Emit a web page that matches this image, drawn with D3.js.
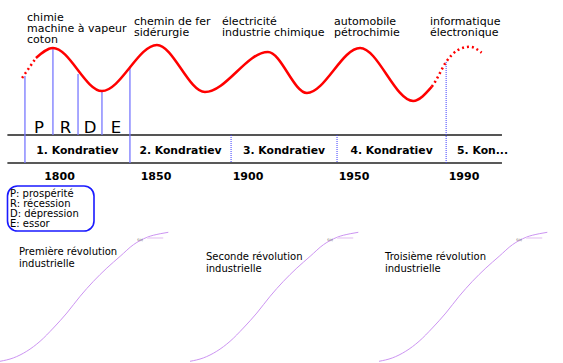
<!DOCTYPE html>
<html><head><meta charset="utf-8">
<script src="https://cdn.jsdelivr.net/npm/d3@7"></script>
<style>body{margin:0;background:#fff}svg{display:block}text{font-family:"DejaVu Sans",sans-serif}</style>
</head><body><svg width="563" height="363"></svg>
<script>
// ---------- data ----------
const yearLabels = [1800, 1850, 1900, 1950, 1990];

const waveStartYears  = [1780.6, 1787.8];
const waveStartValues = [45.7, 74.3];
const waveYears  = [1787.8, 1796.6, 1822.0, 1850.5, 1876.6, 1909.4, 1927.8, 1952.2, 1971.5, 1978.3];
const waveValues = [74.3, 88.6, 27.1, 92.9, 25.7, 82.9, 24.3, 88.6, 12.9, 33.3];
const waveEndYears  = [1978.3, 1979.5, 1983.5, 1987.8, 1992.2, 1996.4];
const waveEndValues = [33.3, 40.4, 68.6, 85.7, 90.4, 81.9];

const phaseNames  = ["P", "R", "D", "E"];
const phaseBounds = [1782.1, 1796.6, 1809.6, 1822.0, 1836.5];
const phaseTops   = [48.6, 88.6, 51.4, 27.1, 61.9];

const kondratievLabels = ["1. Kondratiev", "2. Kondratiev", "3. Kondratiev", "4. Kondratiev", "5. Kon..."];
const kondratievBounds = [1782.1, 1836.5, 1890.8, 1942.0, 1983.5, 2010];
const lastBoundTop = 68.6;
const bandExtent = [1773, 2003.8];

const innovationYears = [1783.2, 1838.6, 1885.9, 1940.6, 1977.6];
const innovationTexts = [
  ["chimie", "machine à vapeur", "coton"],
  ["chemin de fer", "sidérurgie"],
  ["électricité", "industrie chimique"],
  ["automobile", "pétrochimie"],
  ["informatique", "électronique"]
];

const legendItems = ["P: prospérité", "R: récession", "D: dépression", "E: essor"];

const revolutionNames = [
  ["Première révolution", "industrielle"],
  ["Seconde révolution", "industrielle"],
  ["Troisième révolution", "industrielle"]
];
const sCurveT     = [0, 7.9, 15.9, 23.8, 31.7, 39.7, 47.6, 55.5, 63.5, 71.4, 79.3, 87.3, 95.2, 100];
const sCurveLevel = [0, 2.6, 7.8, 15.5, 25.8, 37.4, 50.4, 62, 72.3, 81.4, 90.4, 96.1, 98.9, 100];
const plateauT = [87.3, 97];
const plateauLevel = 95.6;
const curveNote = "S(t)";

// ---------- layout ----------
const svg = d3.select("svg");
const x = d3.scaleLinear().domain(yearLabels).range([59.5, 156, 248, 354, 464]);
const y = d3.scaleLinear().domain([0, 100]).range([110, 40]);
const bandTop = 135, bandBottom = 163;

const line = d3.line().x(d => x(d[0])).y(d => y(d[1])).curve(d3.curveMonotoneX);
const zip = (a, b) => a.map((v, i) => [v, b[i]]);

// band lines
svg.append("line").attr("x1", x(bandExtent[0])).attr("x2", x(bandExtent[1]))
  .attr("y1", bandTop).attr("y2", bandTop).attr("stroke", "#555").attr("stroke-width", 1.8);
svg.append("line").attr("x1", x(bandExtent[0])).attr("x2", x(bandExtent[1]))
  .attr("y1", bandBottom).attr("y2", bandBottom).attr("stroke", "#222").attr("stroke-width", 1.5);

// phase lines
svg.selectAll(".phase").data(phaseBounds).join("line")
  .attr("x1", d => x(d)).attr("x2", d => x(d))
  .attr("y1", (d, i) => y(phaseTops[i]))
  .attr("y2", (d, i) => (i === 0 || i === phaseBounds.length - 1) ? bandBottom : bandTop)
  .attr("stroke", "#7878ff").attr("stroke-width", 1.3);

// kondratiev dotted boundaries
svg.selectAll(".kb").data(kondratievBounds.slice(2, 5)).join("line")
  .attr("x1", d => x(d)).attr("x2", d => x(d))
  .attr("y1", (d, i) => i === 2 ? y(lastBoundTop) : bandTop)
  .attr("y2", bandBottom)
  .attr("stroke", "#3a3aff").attr("stroke-width", 1).attr("stroke-dasharray", "1,1");

// wave
svg.append("path").attr("d", line(zip(waveStartYears, waveStartValues)))
  .attr("fill", "none").attr("stroke", "#ff0000").attr("stroke-width", 2.5).attr("stroke-dasharray", "2,3");
svg.append("path").attr("d", line(zip(waveYears, waveValues)))
  .attr("fill", "none").attr("stroke", "#ff0000").attr("stroke-width", 2.5);
svg.append("path").attr("d", line(zip(waveEndYears, waveEndValues)))
  .attr("fill", "none").attr("stroke", "#ff0000").attr("stroke-width", 2.5).attr("stroke-dasharray", "2,3");

// phase letters
svg.selectAll(".pl").data(phaseNames).join("text")
  .attr("x", (d, i) => (x(phaseBounds[i]) + x(phaseBounds[i + 1])) / 2)
  .attr("y", 133).attr("text-anchor", "middle").attr("font-size", 16.5).attr("fill", "#000")
  .text(d => d);

// kondratiev labels
svg.selectAll(".kl").data(kondratievLabels).join("text")
  .attr("x", (d, i) => (x(kondratievBounds[i]) + x(kondratievBounds[i + 1])) / 2)
  .attr("y", 154).attr("text-anchor", "middle").attr("font-size", 10.8).attr("font-weight", "bold")
  .text(d => d);

// year labels
svg.selectAll(".yl").data(yearLabels).join("text")
  .attr("x", d => x(d)).attr("y", 180).attr("text-anchor", "middle")
  .attr("font-size", 11).attr("font-weight", "bold").text(d => d);

// innovations
innovationTexts.forEach((lines, i) => {
  const y0 = lines.length === 3 ? 21 : 24.5;
  const t = svg.append("text").attr("font-size", 11).attr("fill", "#000");
  lines.forEach((s, j) => t.append("tspan").attr("x", x(innovationYears[i])).attr("y", y0 + j * 11).text(s));
});

// legend
svg.append("rect").attr("x", 7.5).attr("y", 186).attr("width", 86.5).attr("height", 45)
  .attr("rx", 10).attr("ry", 10).attr("fill", "none").attr("stroke", "#1a1aff").attr("stroke-width", 1.6);
svg.selectAll(".lg").data(legendItems).join("text")
  .attr("x", 10).attr("y", (d, i) => 196.5 + i * 10.1).attr("font-size", 10).text(d => d);

// S-curves
const panelX = [0, 190, 379];
const labelY = [255, 260, 260];
const labelX = [19, 206, 385];
revolutionNames.forEach((names, k) => {
  const sx = d3.scaleLinear().domain([0, 100]).range([panelX[k], panelX[k] + 168.3]);
  const sy = d3.scaleLinear().domain([0, 100]).range([361.3, 232.3]);
  const sl = d3.line().x(d => sx(d[0])).y(d => sy(d[1])).curve(d3.curveMonotoneX);
  svg.append("path").attr("d", sl(zip(sCurveT, sCurveLevel)))
    .attr("fill", "none").attr("stroke", "#cc94f2").attr("stroke-width", 1);
  svg.append("line").attr("x1", sx(plateauT[0])).attr("x2", sx(plateauT[1]))
    .attr("y1", sy(plateauLevel)).attr("y2", sy(plateauLevel))
    .attr("stroke", "#ecd2f6").attr("stroke-width", 1.5);
  svg.append("text").attr("x", sx(81.5)).attr("y", sy(93.5)).attr("font-size", 3.2)
    .attr("fill", "#555").text(curveNote);
  const t = svg.append("text").attr("font-size", 10).attr("fill", "#000");
  names.forEach((s, j) => t.append("tspan").attr("x", labelX[k]).attr("y", labelY[k] + j * 12.3).text(s));
});
</script></body></html>
